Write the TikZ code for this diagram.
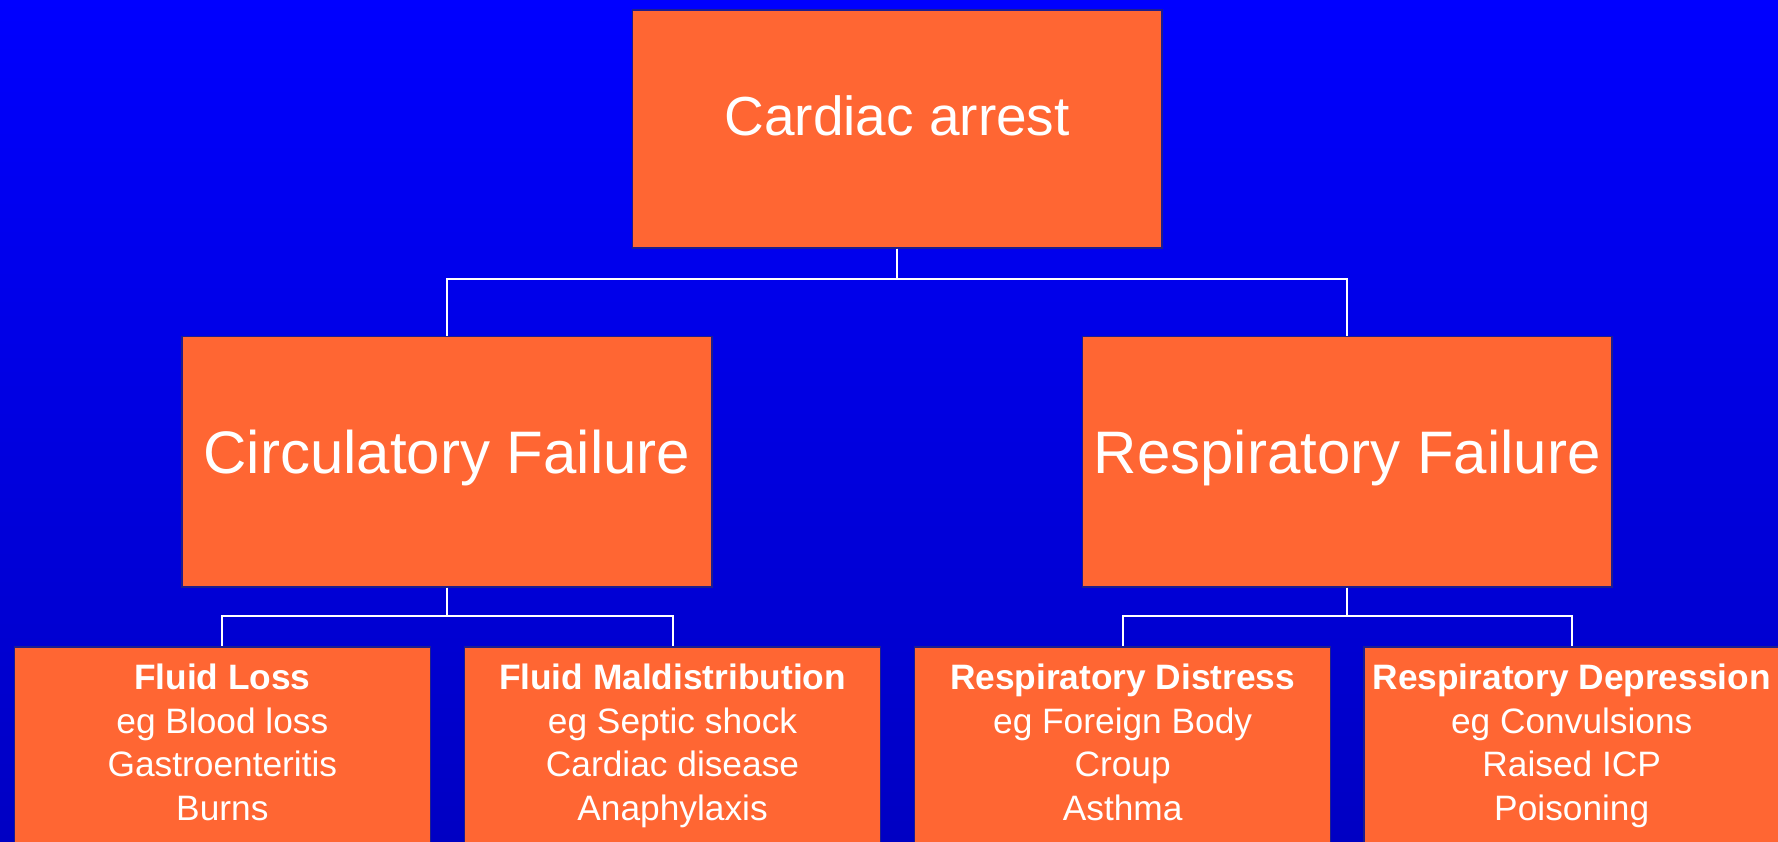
\documentclass[tikz,border=0pt]{standalone}
\usepackage{fontspec}
\setmainfont{Liberation Sans}
\definecolor{boxfill}{RGB}{255,102,51}
\definecolor{boxline}{RGB}{30,30,140}
\definecolor{bgtop}{RGB}{0,0,255}
\definecolor{bgbot}{RGB}{0,0,195}
\begin{document}
\begin{tikzpicture}[x=1pt,y=-1pt,
  box/.style={draw=boxline, line width=1.5pt, fill=boxfill, inner sep=0pt, anchor=north west},
  conn/.style={draw=white, line width=2pt},
  txt/.style={text=white, inner sep=0pt},
  small/.style={txt, anchor=north, align=center, font=\fontsize{35.3}{43.7}\selectfont}]
\useasboundingbox (0,0) rectangle (1778,841);
\clip (0,0) rectangle (1778,841);
\shade[top color=bgtop, bottom color=bgbot] (0,0) rectangle (1778,841);

% boxes
\node[box, minimum width=529.5pt, minimum height=238pt] (top) at (631.6,9.1) {};
\node[box, minimum width=529.6pt, minimum height=250.6pt] (cf) at (181.4,335.6) {};
\node[box, minimum width=529.6pt, minimum height=250.6pt] (rf) at (1081.7,335.6) {};
\node[box, minimum width=416pt, minimum height=240pt] (b1) at (13.6,646.3) {};
\node[box, minimum width=416pt, minimum height=240pt] (b2) at (463.8,646.3) {};
\node[box, minimum width=416pt, minimum height=240pt] (b3) at (913.9,646.3) {};
\node[box, minimum width=416pt, minimum height=240pt] (b4) at (1363,646.3) {};

% texts
\node[txt, anchor=base, font=\fontsize{55}{66}\selectfont] (ttop) at ([yshift=-7pt]top.center) {Cardiac arrest};
\node[txt, anchor=base, font=\fontsize{60}{72}\selectfont] (tcf) at ([yshift=-11.4pt]cf.center) {Circulatory Failure};
\node[txt, anchor=base, font=\fontsize{60}{72}\selectfont] (trf) at ([yshift=-11.4pt]rf.center) {Respiratory Failure};
\node[small] (tb1) at ([yshift=-17.5pt]b1.north) {\textbf{Fluid Loss}\\eg Blood loss\\Gastroenteritis\\Burns};
\node[small] (tb2) at ([yshift=-17.5pt]b2.north) {\textbf{Fluid Maldistribution}\\eg Septic shock\\Cardiac disease\\Anaphylaxis};
\node[small] (tb3) at ([yshift=-17.5pt]b3.north) {\textbf{Respiratory Distress}\\eg Foreign Body\\Croup\\Asthma};
\node[small] (tb4) at ([yshift=-17.5pt]b4.north) {\textbf{Respiratory Depression}\\eg Convulsions\\Raised ICP\\Poisoning};

% connectors
\draw[conn] (top.south) -- ++(0,30.6) -| (cf.north);
\draw[conn] (top.south) -- ++(0,30.6) -| (rf.north);
\draw[conn] (cf.south) -- ++(0,28.4) -| (b1.north);
\draw[conn] (cf.south) -- ++(0,28.4) -| (b2.north);
\draw[conn] (rf.south) -- ++(0,28.4) -| (b3.north);
\draw[conn] (rf.south) -- ++(0,28.4) -| (b4.north);
\end{tikzpicture}
\end{document}
